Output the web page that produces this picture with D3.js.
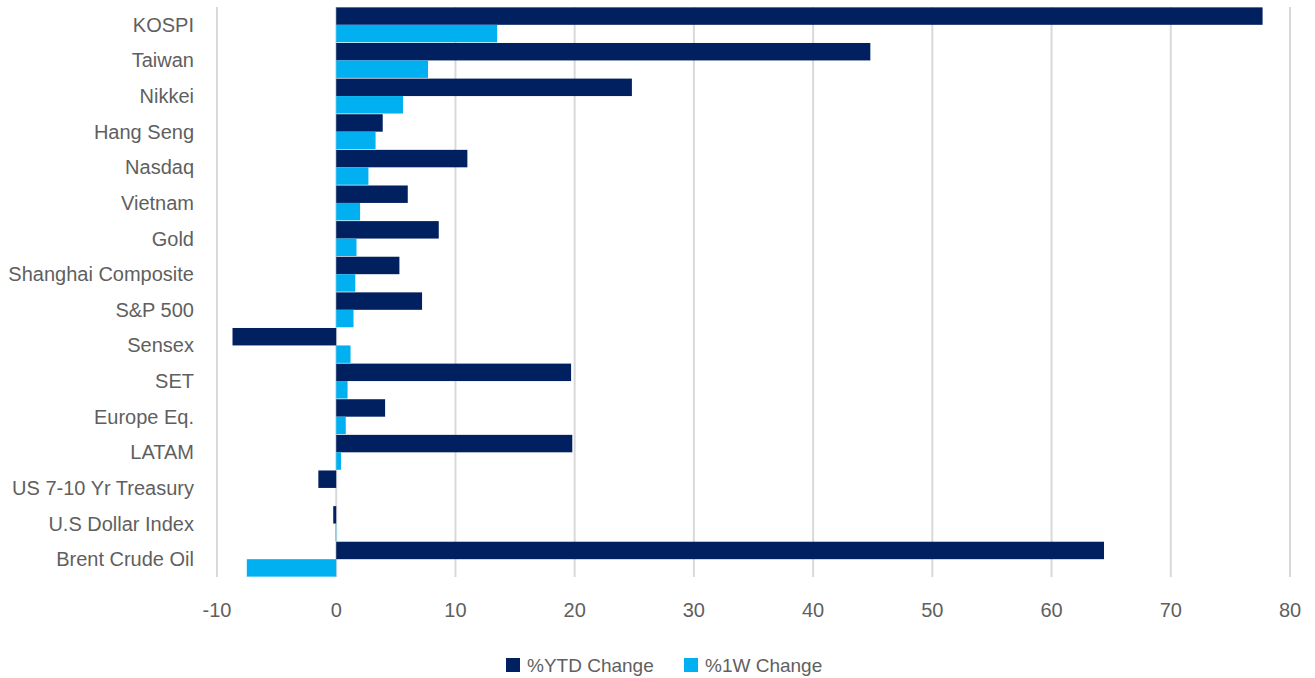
<!DOCTYPE html>
<html>
<head>
<meta charset="utf-8">
<script src="https://cdn.jsdelivr.net/npm/d3@7"></script>
<style>
  body { margin: 0; background: #fff; }
  svg text { font-family: "Liberation Sans", Arial, sans-serif; fill: #5f5f5f; }
</style>
</head>
<body>
<svg id="chart"></svg>
<script>
// categories, top to bottom
const categories = ["KOSPI", "Taiwan", "Nikkei", "Hang Seng", "Nasdaq", "Vietnam", "Gold",
  "Shanghai Composite", "S&P 500", "Sensex", "SET", "Europe Eq.", "LATAM",
  "US 7-10 Yr Treasury", "U.S Dollar Index", "Brent Crude Oil"];
const ytdChange = [77.7, 44.8, 24.8, 3.9, 11.0, 6.0, 8.6, 5.3, 7.2, -8.7, 19.7, 4.1, 19.8, -1.5, -0.25, 64.4];
const weekChange = [13.5, 7.7, 5.6, 3.3, 2.7, 2.0, 1.7, 1.6, 1.45, 1.2, 0.95, 0.8, 0.4, 0, -0.05, -7.5];
const xTicks = [-10, 0, 10, 20, 30, 40, 50, 60, 70, 80];
const seriesNames = ["%YTD Change", "%1W Change"];
const colors = ["#002060", "#00B0F0"];

const W = 1315, H = 678;
const margin = { top: 7, right: 25, bottom: 101, left: 217 };
const width = W - margin.left - margin.right;
const height = H - margin.top - margin.bottom;

const svg = d3.select("#chart").attr("width", W).attr("height", H);
const g = svg.append("g").attr("transform", "translate(" + margin.left + "," + margin.top + ")");

const x = d3.scaleLinear().domain([-10, 80]).range([0, width]);
const y = d3.scaleBand().domain(categories).range([0, height]).paddingInner(0.02).paddingOuter(0.01);
const sub = d3.scaleBand().domain([0, 1]).range([0, y.bandwidth()]);

// gridlines
g.append("g")
  .selectAll("line")
  .data(xTicks)
  .join("line")
  .attr("x1", d => x(d)).attr("x2", d => x(d))
  .attr("y1", 0).attr("y2", height)
  .attr("stroke", "#d9d9d9")
  .attr("stroke-width", 2);

// x tick labels
g.append("g")
  .selectAll("text")
  .data(xTicks)
  .join("text")
  .attr("x", d => x(d))
  .attr("y", height + 40)
  .attr("text-anchor", "middle")
  .style("font-size", "20px")
  .text(d => d);

// category labels
g.append("g")
  .selectAll("text")
  .data(categories)
  .join("text")
  .attr("x", -23)
  .attr("y", d => y(d) + y.bandwidth() / 2)
  .attr("dy", "0.35em")
  .attr("text-anchor", "end")
  .style("font-size", "20px")
  .text(d => d);

// bars
const series = [ytdChange, weekChange];
series.forEach(function (vals, s) {
  g.append("g")
    .selectAll("rect")
    .data(vals)
    .join("rect")
    .attr("x", d => x(Math.min(0, d)))
    .attr("width", d => Math.abs(x(d) - x(0)))
    .attr("y", (d, i) => y(categories[i]) + sub(s))
    .attr("height", sub.bandwidth())
    .attr("fill", colors[s]);
});

// legend
const legend = svg.append("g").attr("transform", "translate(506,658)");
const legendX = [0, 178];
seriesNames.forEach(function (name, i) {
  legend.append("rect")
    .attr("x", legendX[i]).attr("y", 0)
    .attr("width", 14).attr("height", 14)
    .attr("fill", colors[i]);
  legend.append("text")
    .attr("x", legendX[i] + 21)
    .attr("y", 7)
    .attr("dy", "0.35em")
    .style("font-size", "19px")
    .text(name);
});
</script>
</body>
</html>
